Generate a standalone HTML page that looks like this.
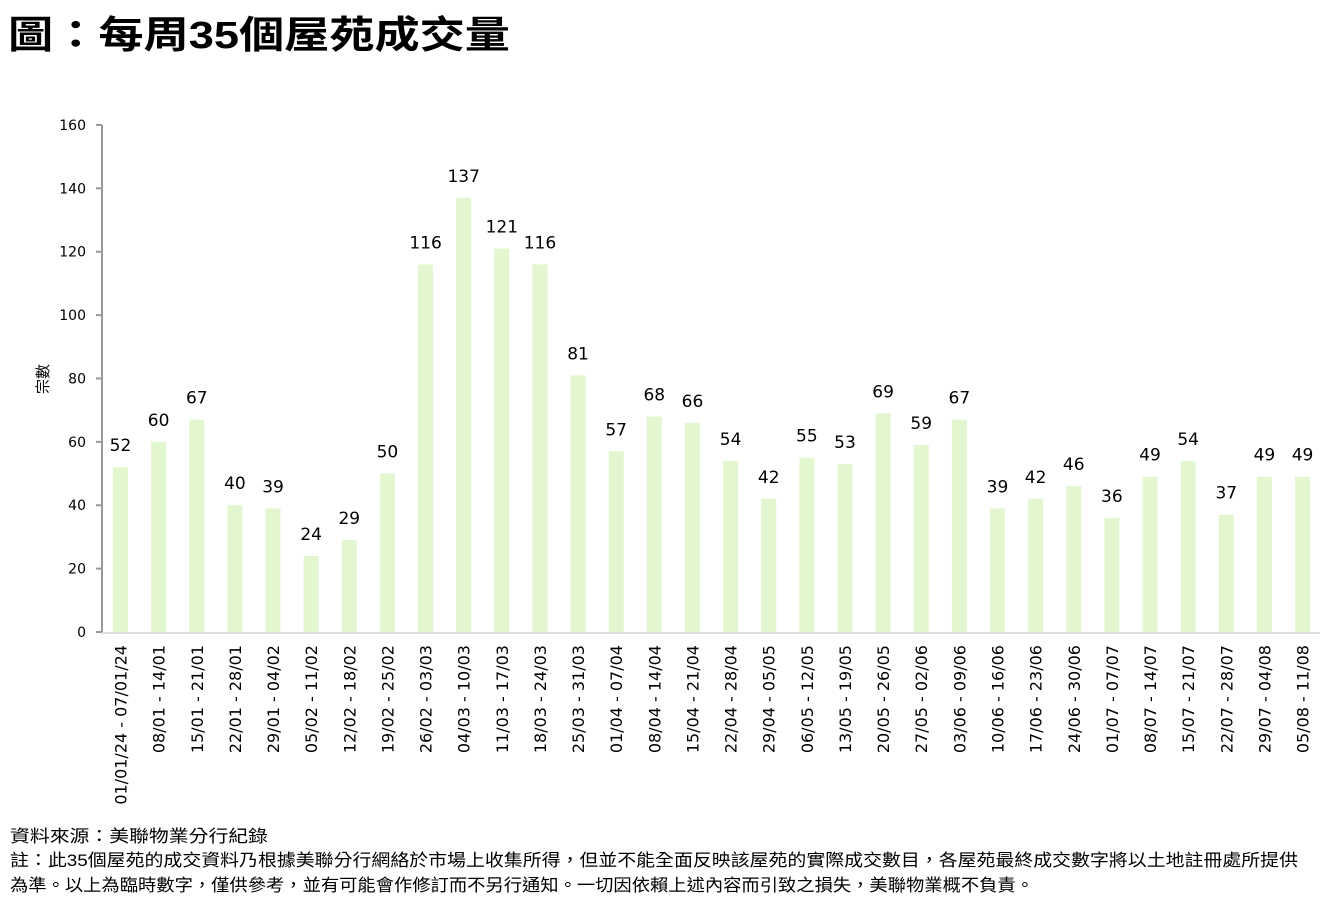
<!DOCTYPE html>
<html><head><meta charset="utf-8"><style>
html,body{margin:0;padding:0;background:#fff;}
svg{display:block;font-family:"DejaVu Sans","Noto Sans CJK TC",sans-serif;}
.c{font-family:"Liberation Sans","Noto Sans CJK TC",sans-serif;}
</style></head><body>
<svg id="s" width="1337" height="912" xmlns="http://www.w3.org/2000/svg">
<text class="c" x="8" y="48" font-size="38" font-weight="bold" textLength="502" lengthAdjust="spacingAndGlyphs">圖：每周35個屋苑成交量</text>
<g id="g"></g>
<text class="c" transform="translate(48,379) rotate(-90)" font-size="15" text-anchor="middle">宗數</text>
<text class="c" x="10" y="842" font-size="17" textLength="258" lengthAdjust="spacingAndGlyphs">資料來源：美聯物業分行紀錄</text>
<text class="c" x="10" y="866" font-size="17" textLength="1288" lengthAdjust="spacingAndGlyphs">註：此35個屋苑的成交資料乃根據美聯分行網絡於市場上收集所得，但並不能全面反映該屋苑的實際成交數目，各屋苑最終成交數字將以土地註冊處所提供</text>
<text class="c" x="10" y="891" font-size="17" textLength="1024" lengthAdjust="spacingAndGlyphs">為準。以上為臨時數字，僅供參考，並有可能會作修訂而不另行通知。一切因依賴上述內容而引致之損失，美聯物業概不負責。</text>
</svg>
<script>
var v=[52,60,67,40,39,24,29,50,116,137,121,116,81,57,68,66,54,42,55,53,69,59,67,39,42,46,36,49,54,37,49,49];
var l=["01/01/24 - 07/01/24","08/01 - 14/01","15/01 - 21/01","22/01 - 28/01","29/01 - 04/02","05/02 - 11/02","12/02 - 18/02","19/02 - 25/02","26/02 - 03/03","04/03 - 10/03","11/03 - 17/03","18/03 - 24/03","25/03 - 31/03","01/04 - 07/04","08/04 - 14/04","15/04 - 21/04","22/04 - 28/04","29/04 - 05/05","06/05 - 12/05","13/05 - 19/05","20/05 - 26/05","27/05 - 02/06","03/06 - 09/06","10/06 - 16/06","17/06 - 23/06","24/06 - 30/06","01/07 - 07/07","08/07 - 14/07","15/07 - 21/07","22/07 - 28/07","29/07 - 04/08","05/08 - 11/08"];
var y0=632,u=3.169,h='';
h+='<line x1="102" y1="125" x2="102" y2="633" stroke="#999" stroke-width="2"/>';
h+='<line x1="101" y1="633" x2="1320" y2="633" stroke="#ddd" stroke-width="2"/>';
for(var t=0;t<=160;t+=20){var y=y0-t*u;h+='<line x1="96" y1="'+y+'" x2="102" y2="'+y+'" stroke="#999" stroke-width="2"/><text x="86" y="'+(y+5)+'" font-size="14" text-anchor="end">'+t+'</text>';}
for(var i=0;i<v.length;i++){var c=120.5+i*38.13,y=y0-v[i]*u;
h+='<rect x="'+(c-7.5)+'" y="'+y+'" width="15" height="'+(v[i]*u)+'" fill="#e2f6cf"/>';
h+='<text x="'+c+'" y="'+(y-16)+'" font-size="17" text-anchor="middle">'+v[i]+'</text>';
h+='<text transform="translate('+(c+6)+',645) rotate(-90)" font-size="16" text-anchor="end">'+l[i]+'</text>';}
document.getElementById('g').innerHTML=h;
</script>
</body></html>
